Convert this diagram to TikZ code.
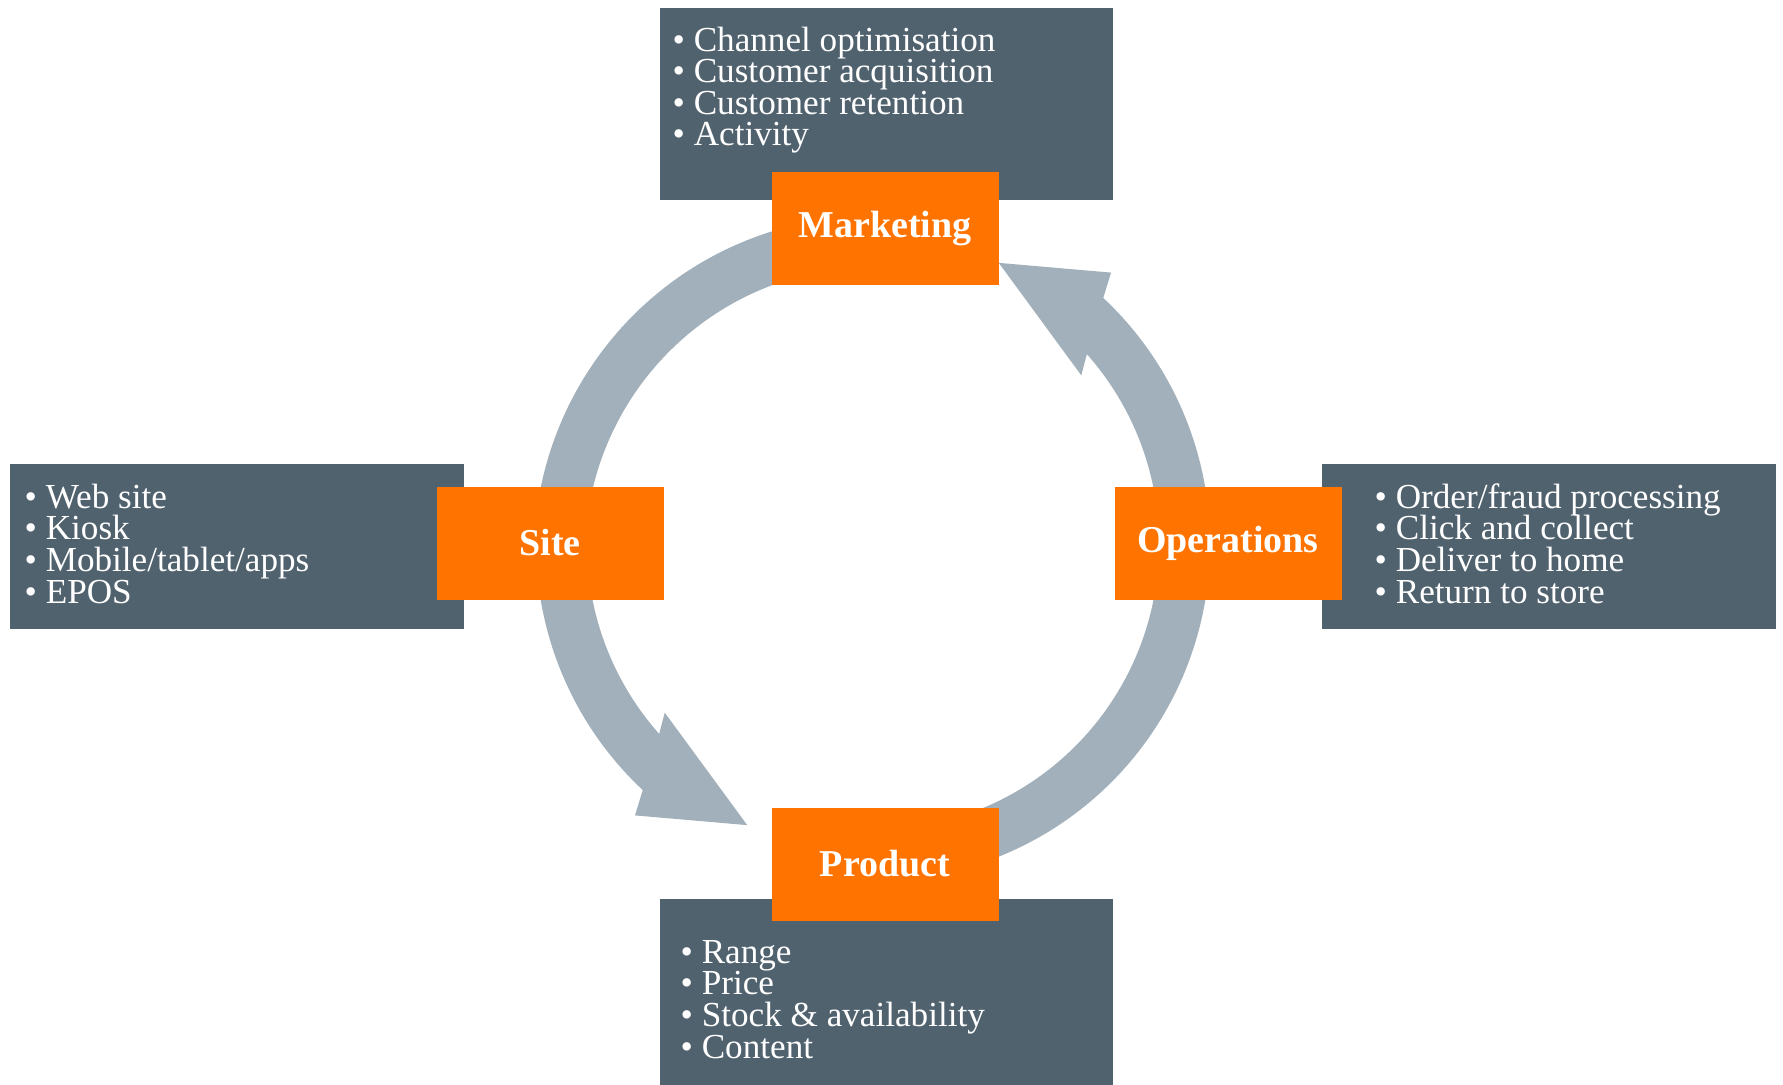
\documentclass[tikz,border=0pt]{standalone}
\usepackage{fontspec}
\setmainfont{Liberation Serif}
\usetikzlibrary{calc}

\definecolor{slate}{RGB}{81,98,111}
\definecolor{pwcorange}{RGB}{255,115,0}
\definecolor{ringgray}{RGB}{162,176,187}

\lineskiplimit=-5pt

\tikzset{
  stage/.style={fill=pwcorange,text=white,font=\fontsize{10.8}{12}\selectfont\bfseries,
    minimum width=2.27cm,minimum height=1.13cm,inner sep=0pt},
  panel/.style={fill=slate,anchor=north west,inner sep=0pt},
  items/.style={text=white,align=left,anchor=base west,inner sep=0pt,
    font=\fontsize{10}{9}\selectfont},
}

\begin{document}
\begin{tikzpicture}[x=0.1mm,y=0.1mm]
\useasboundingbox (0,0) rectangle (1783,-1085);

\coordinate (hub) at (873,-544);
\coordinate (hubtop) at (873,-555);

% ring pieces
\fill [ringgray] ($(hubtop)+(182:339)$) arc[start angle=182,end angle=100,radius=339] -- ($(hubtop)+(100:288)$) arc[start angle=100,end angle=182,radius=288] -- cycle;

\fill [ringgray] ($(hub)+(5:337)$) arc[start angle=5,end angle=-100,radius=337] -- ($(hub)+(-100:286)$) arc[start angle=-100,end angle=5,radius=286] -- cycle;

\fill [ringgray] ($(hub)+(-5:337)$) arc[start angle=-5,end angle=46.9,radius=337] -- ($(hub)+(48.75:361)$) -- ($(hub)+(65.9:308)$) -- ($(hub)+(39:268)$) -- ($(hub)+(41.6:286)$) arc[start angle=41.6,end angle=-5,radius=286] -- cycle;

\fill [ringgray] ($(hub)+(175:337)$) arc[start angle=175,end angle=226.9,radius=337] -- ($(hub)+(228.75:361)$) -- ($(hub)+(245.9:308)$) -- ($(hub)+(219:268)$) -- ($(hub)+(221.6:286)$) arc[start angle=221.6,end angle=175,radius=286] -- cycle;

% panels
\node [panel,minimum width=4.53cm,minimum height=1.92cm] (mktpanel) at (659,-7) {};
\node [panel,minimum width=4.54cm,minimum height=1.65cm] (sitepanel) at (9,-463) {};
\node [panel,minimum width=4.54cm,minimum height=1.65cm] (opspanel) at (1321,-463) {};
\node [panel,minimum width=4.53cm,minimum height=1.87cm] (prodpanel) at (659,-898) {};

% lists (base = last line)
\node [items] (mktlist) at (672,-146) {• Channel optimisation\\• Customer acquisition\\• Customer retention\\• Activity};
\node [items] (sitelist) at (24,-603) {• Web site\\• Kiosk\\• Mobile/tablet/apps\\• EPOS};
\node [items] (opslist) at (1374,-603) {• Order/fraud processing\\• Click and collect\\• Deliver to home\\• Return to store};
\node [items] (prodlist) at (680,-1058) {• Range\\• Price\\• Stock \& availability\\• Content};

% stages
\node [stage] (mkt) at (885,-229) {Marketing};
\node [stage] (site) at (550,-543) {Site};
\node [stage] (ops) at (1228,-543) {Operations};
\node [stage] (prod) at (885,-864) {Product};

\end{tikzpicture}
\end{document}
